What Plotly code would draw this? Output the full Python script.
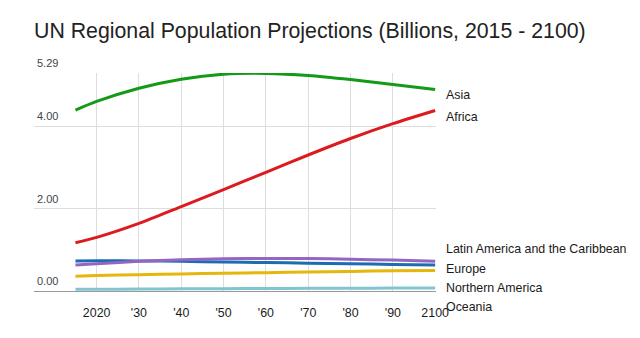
import plotly.graph_objects as go

# UN regional population projections, billions
years = [2015, 2020, 2030, 2040, 2050, 2060, 2070, 2080, 2090, 2100]
asia = [4.39, 4.60, 4.92, 5.14, 5.26, 5.28, 5.23, 5.13, 5.01, 4.89]
africa = [1.17, 1.30, 1.64, 2.05, 2.46, 2.88, 3.30, 3.70, 4.06, 4.38]
europe = [0.73, 0.735, 0.73, 0.72, 0.705, 0.69, 0.675, 0.66, 0.645, 0.63]
latin_america = [0.63, 0.66, 0.72, 0.76, 0.78, 0.79, 0.79, 0.77, 0.75, 0.72]
northern_america = [0.36, 0.375, 0.395, 0.415, 0.43, 0.445, 0.46, 0.475, 0.49, 0.50]
oceania = [0.04, 0.042, 0.047, 0.052, 0.057, 0.061, 0.065, 0.068, 0.070, 0.071]

x_tick_vals = [2020, 2030, 2040, 2050, 2060, 2070, 2080, 2090, 2100]
x_tick_text = ["2020", "'30", "'40", "'50", "'60", "'70", "'80", "'90", "2100"]
y_tick_vals = [0, 2, 4, 5.29]
y_tick_text = ["0.00", "2.00", "4.00", "5.29"]

FONT = "Liberation Sans, Arial, sans-serif"

# name, values, colour, vertical nudge of the end label (px)
series = [
    ("Asia", asia, "#139a17", -6),
    ("Africa", africa, "#dc1b1f", -6),
    ("Europe", europe, "#1a6db3", -4),
    ("Latin America and the Caribbean", latin_america, "#9466c2", 12),
    ("Northern America", northern_america, "#e3b70b", -18),
    ("Oceania", oceania, "#80c5cf", -19),
]

fig = go.Figure()
annotations = []
for name, vals, color, shift in series:
    fig.add_trace(go.Scatter(
        x=years, y=vals, mode="lines", name=name,
        line=dict(color=color, width=3, shape="spline", smoothing=0.8),
        cliponaxis=False, hoverinfo="x+y+name",
    ))
    annotations.append(dict(
        x=years[-1], y=vals[-1], xref="x", yref="y", text=name,
        showarrow=False, xanchor="left", yanchor="middle",
        xshift=9, yshift=shift,
        font=dict(family=FONT, size=12.4, color="#1a1a1a"),
    ))

# y tick labels sit just above their gridlines, inside the plot
for v, t in zip(y_tick_vals, y_tick_text):
    annotations.append(dict(
        x=0, y=v, xref="paper", yref="y", text=t, showarrow=False,
        xanchor="left", yanchor="middle", xshift=1, yshift=10,
        font=dict(family=FONT, size=11, color="#444444"),
    ))

fig.update_layout(
    width=640, height=338,
    margin=dict(l=34, r=204, t=73, b=47),
    paper_bgcolor="white", plot_bgcolor="white",
    showlegend=False,
    title=dict(
        text="UN Regional Population Projections (Billions, 2015 - 2100)",
        x=0, xref="paper", xanchor="left",
        y=1 - 31 / 338, yref="container", yanchor="middle",
        font=dict(family=FONT, size=21.3, color="#222222"),
    ),
    xaxis=dict(
        range=[2005.2, 2100.2], tickvals=x_tick_vals, ticktext=x_tick_text,
        showgrid=True, gridcolor="#dddddd", gridwidth=1,
        zeroline=False, showline=True, linecolor="#999999", linewidth=1,
        ticks="", ticklabelstandoff=10,
        tickfont=dict(family=FONT, size=12.4, color="#1a1a1a"),
    ),
    yaxis=dict(
        range=[0, 5.29], tickvals=y_tick_vals, showticklabels=False,
        showgrid=True, gridcolor="#dddddd", gridwidth=1,
        zeroline=False, showline=False, ticks="",
    ),
    annotations=annotations,
)

fig.write_html("out.html")
